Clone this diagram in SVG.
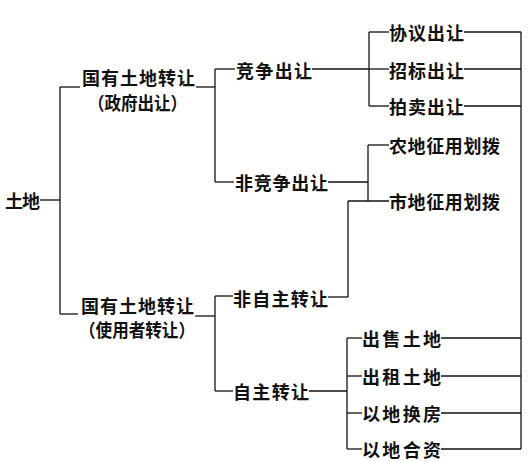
<svg xmlns="http://www.w3.org/2000/svg" width="529" height="462" viewBox="0 0 529 462">
<style>
text{font-family:"Noto Sans CJK SC","Noto Sans CJK TC",sans-serif;font-size:18px;font-weight:bold;fill:#111;dominant-baseline:central}
.c line{stroke:#111;stroke-width:1.3;fill:none}
</style>
<rect width="529" height="462" fill="#fff"/>
<g class="c" id="connectors">
<line x1="40" y1="200" x2="60" y2="200"/>
<line x1="60" y1="87" x2="60" y2="314"/>
<line x1="60" y1="87" x2="80" y2="87"/>
<line x1="60" y1="314" x2="78" y2="314"/>
<line x1="196" y1="87" x2="215" y2="87"/>
<line x1="215" y1="69" x2="215" y2="182"/>
<line x1="215" y1="69" x2="235" y2="69"/>
<line x1="215" y1="182" x2="234" y2="182"/>
<line x1="312" y1="69" x2="369" y2="69"/>
<line x1="369" y1="32" x2="369" y2="106"/>
<line x1="369" y1="32" x2="389" y2="32"/>
<line x1="369" y1="69" x2="389" y2="69"/>
<line x1="369" y1="106" x2="389" y2="106"/>
<line x1="464" y1="32" x2="521" y2="32"/>
<line x1="464" y1="69" x2="521" y2="69"/>
<line x1="464" y1="106" x2="521" y2="106"/>
<line x1="521" y1="32" x2="521" y2="449"/>
<line x1="328" y1="182" x2="368" y2="182"/>
<line x1="368" y1="145" x2="368" y2="201"/>
<line x1="368" y1="145" x2="389" y2="145"/>
<line x1="348" y1="201" x2="389" y2="201"/>
<line x1="348" y1="201" x2="348" y2="297"/>
<line x1="328" y1="297" x2="348" y2="297"/>
<line x1="195" y1="316" x2="215" y2="316"/>
<line x1="215" y1="296" x2="215" y2="391"/>
<line x1="215" y1="296" x2="233" y2="296"/>
<line x1="215" y1="391" x2="233" y2="391"/>
<line x1="309" y1="391" x2="347" y2="391"/>
<line x1="347" y1="338" x2="347" y2="449"/>
<line x1="347" y1="338" x2="362" y2="338"/>
<line x1="347" y1="376" x2="362" y2="376"/>
<line x1="347" y1="413" x2="362" y2="413"/>
<line x1="347" y1="449" x2="362" y2="449"/>
<line x1="441" y1="338" x2="521" y2="338"/>
<line x1="441" y1="376" x2="521" y2="376"/>
<line x1="441" y1="413" x2="521" y2="413"/>
<line x1="441" y1="449" x2="521" y2="449"/>
</g>
<g id="n-tudi"><text x="5" y="200" textLength="35" lengthAdjust="spacing">土地</text></g>
<g id="n-guoyou1"><text x="82" y="77" textLength="113" lengthAdjust="spacing">国有土地转让</text><text x="88" y="102" textLength="99" lengthAdjust="spacingAndGlyphs">（政府出让）</text></g>
<g id="n-jingzheng"><text x="236" y="70" textLength="76" lengthAdjust="spacing">竞争出让</text></g>
<g id="n-feijingzheng"><text x="235" y="182" textLength="93" lengthAdjust="spacing">非竞争出让</text></g>
<g id="n-xieyi"><text x="389" y="32" textLength="75" lengthAdjust="spacing">协议出让</text></g>
<g id="n-zhaobiao"><text x="389" y="70" textLength="75" lengthAdjust="spacing">招标出让</text></g>
<g id="n-paimai"><text x="389" y="106" textLength="75" lengthAdjust="spacing">拍卖出让</text></g>
<g id="n-nongdi"><text x="389" y="145" textLength="111" lengthAdjust="spacing">农地征用划拨</text></g>
<g id="n-shidi"><text x="389" y="201" textLength="111" lengthAdjust="spacing">市地征用划拨</text></g>
<g id="n-guoyou2"><text x="81" y="305" textLength="113" lengthAdjust="spacing">国有土地转让</text><text x="79" y="329" textLength="116" lengthAdjust="spacingAndGlyphs">（使用者转让）</text></g>
<g id="n-feizizhu"><text x="233" y="298" textLength="95" lengthAdjust="spacing">非自主转让</text></g>
<g id="n-zizhu"><text x="233" y="391" textLength="76" lengthAdjust="spacing">自主转让</text></g>
<g id="n-chushou"><text x="362" y="338" textLength="79" lengthAdjust="spacing">出售土地</text></g>
<g id="n-chuzu"><text x="362" y="376" textLength="79" lengthAdjust="spacing">出租土地</text></g>
<g id="n-huanfang"><text x="362" y="413" textLength="79" lengthAdjust="spacing">以地换房</text></g>
<g id="n-hezi"><text x="362" y="449" textLength="79" lengthAdjust="spacing">以地合资</text></g>
</svg>
